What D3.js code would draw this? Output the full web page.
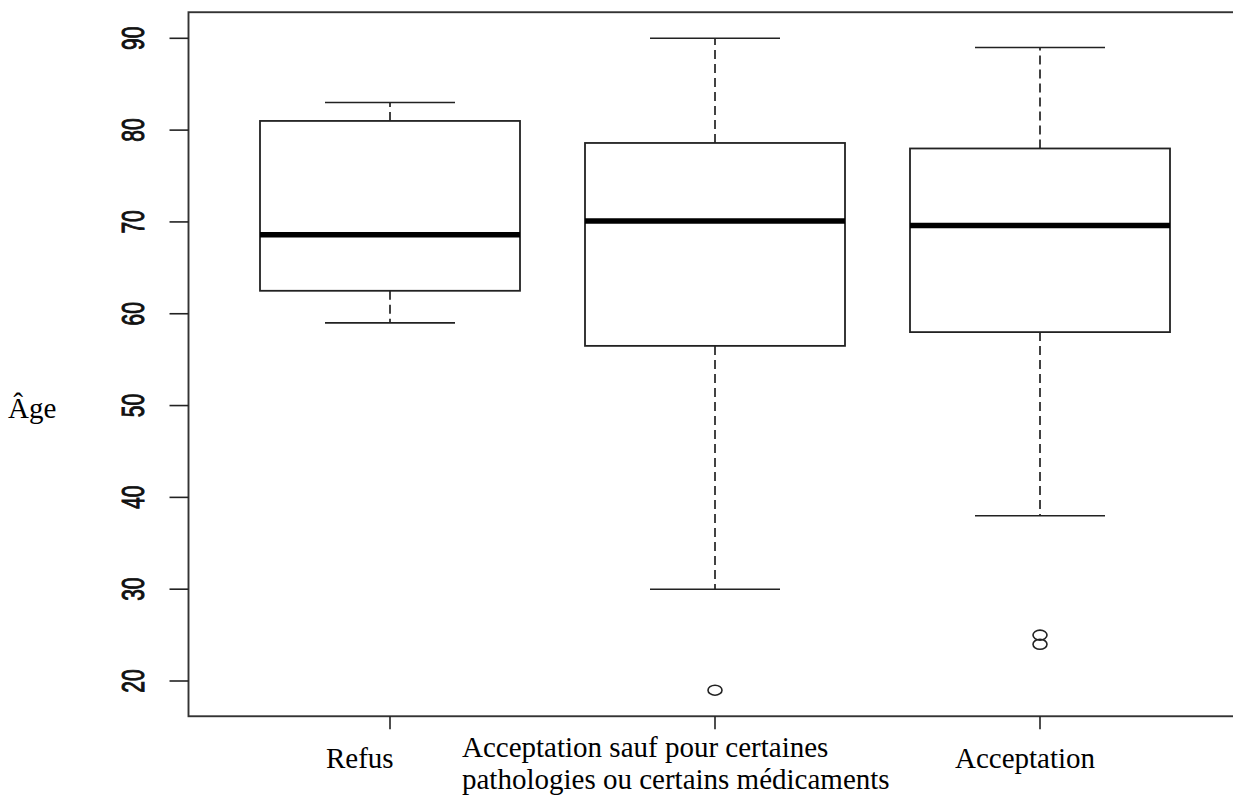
<!DOCTYPE html>
<html>
<head>
<meta charset="utf-8">
<script src="https://cdnjs.cloudflare.com/ajax/libs/d3/7.8.5/d3.min.js"></script>
<style>
  body { margin: 0; background: #fff; }
  svg { display: block; }
</style>
</head>
<body>
<div id="chart"></div>
<script>
// groups, in plotting order
var categories = ["Refus", "Acceptation sauf pour certaines pathologies ou certains médicaments", "Acceptation"];
var labelLines = [["Refus"], ["Acceptation sauf pour certaines", "pathologies ou certains médicaments"], ["Acceptation"]];

// five-number summaries
var lowWhisker = [59, 30, 38];
var q1 = [62.5, 56.5, 58];
var median = [68.6, 70.1, 69.6];
var q3 = [81, 78.6, 78];
var highWhisker = [83, 90, 89];
var outliers = [[], [19], [24, 25]];

var yTicks = [20, 30, 40, 50, 60, 70, 80, 90];

var width = 1233, height = 798;

var boxes = categories.map(function(c, i) {
    return {
        name: c, i: i + 1,
        lo: lowWhisker[i], q1: q1[i], med: median[i], q3: q3[i], hi: highWhisker[i],
        out: outliers[i]
    };
});

// R style scales: 4% padding around the data range
var x = d3.scaleLinear().domain([1, 3]).range([390, 1040]);
var y = d3.scaleLinear().domain([20, 90]).range([681, 38.3]);

var allVals = d3.merge([lowWhisker, highWhisker, d3.merge(outliers)]);
var yMin = d3.min(allVals), yMax = d3.max(allVals);
var pad = (yMax - yMin) * 0.04;
var frameTop = y(yMax + pad), frameBottom = y(yMin - pad);
var frameLeft = x(0.5 - 0.12), frameRight = x(3.5 + 0.12);

var svg = d3.select("#chart").append("svg")
    .attr("width", width)
    .attr("height", height);

// plot frame
svg.append("rect")
    .attr("x", frameLeft)
    .attr("y", frameTop)
    .attr("width", frameRight - frameLeft)
    .attr("height", frameBottom - frameTop)
    .attr("fill", "none")
    .attr("stroke", "#333")
    .attr("stroke-width", 1.9);

// y axis ticks, labels rotated and stretched like the original
var yAxis = svg.append("g");
yAxis.selectAll("line")
    .data(yTicks)
    .enter().append("line")
    .attr("x1", frameLeft - 19)
    .attr("x2", frameLeft)
    .attr("y1", function(d) { return y(d); })
    .attr("y2", function(d) { return y(d); })
    .attr("stroke", "#222")
    .attr("stroke-width", 1.6);

yAxis.selectAll("text")
    .data(yTicks)
    .enter().append("text")
    .attr("transform", function(d) { return "translate(144," + y(d) + ") scale(1.5,1) rotate(-90)"; })
    .attr("text-anchor", "middle")
    .style("font-family", "'Liberation Sans', Arial, sans-serif")
    .style("font-size", "21px")
    .style("fill", "#111")
    .style("stroke", "#111")
    .style("stroke-width", 0.7)
    .text(function(d) { return d; });

// x axis ticks
svg.selectAll(".xtick")
    .data(boxes)
    .enter().append("line")
    .attr("class", "xtick")
    .attr("x1", function(d) { return x(d.i); })
    .attr("x2", function(d) { return x(d.i); })
    .attr("y1", frameBottom)
    .attr("y2", frameBottom + 13)
    .attr("stroke", "#222")
    .attr("stroke-width", 1.6);

// boxes
var g = svg.selectAll(".box")
    .data(boxes)
    .enter().append("g")
    .attr("class", "box");

var halfBox = (x(2) - x(1)) * 0.4, halfCap = (x(2) - x(1)) * 0.2;

// dashed whiskers
g.append("line")
    .attr("x1", function(d) { return x(d.i); })
    .attr("x2", function(d) { return x(d.i); })
    .attr("y1", function(d) { return y(d.q3); })
    .attr("y2", function(d) { return y(d.hi); })
    .attr("stroke", "#222")
    .attr("stroke-width", 1.7)
    .attr("stroke-dasharray", "9,5");
g.append("line")
    .attr("x1", function(d) { return x(d.i); })
    .attr("x2", function(d) { return x(d.i); })
    .attr("y1", function(d) { return y(d.q1); })
    .attr("y2", function(d) { return y(d.lo); })
    .attr("stroke", "#222")
    .attr("stroke-width", 1.7)
    .attr("stroke-dasharray", "9,5");

// whisker caps
["hi", "lo"].forEach(function(k) {
    g.append("line")
        .attr("x1", function(d) { return x(d.i) - halfCap; })
        .attr("x2", function(d) { return x(d.i) + halfCap; })
        .attr("y1", function(d) { return y(d[k]); })
        .attr("y2", function(d) { return y(d[k]); })
        .attr("stroke", "#222")
        .attr("stroke-width", 1.6);
});

g.append("rect")
    .attr("x", function(d) { return x(d.i) - halfBox; })
    .attr("y", function(d) { return y(d.q3); })
    .attr("width", halfBox * 2)
    .attr("height", function(d) { return y(d.q1) - y(d.q3); })
    .attr("fill", "#fff")
    .attr("stroke", "#222")
    .attr("stroke-width", 1.8);

// median
g.append("line")
    .attr("x1", function(d) { return x(d.i) - halfBox; })
    .attr("x2", function(d) { return x(d.i) + halfBox; })
    .attr("y1", function(d) { return y(d.med); })
    .attr("y2", function(d) { return y(d.med); })
    .attr("stroke", "#000")
    .attr("stroke-width", 5.5);

// outliers
g.each(function(d) {
    d3.select(this).selectAll("ellipse")
        .data(d.out)
        .enter().append("ellipse")
        .attr("cx", x(d.i))
        .attr("cy", function(v) { return y(v); })
        .attr("rx", 7)
        .attr("ry", 5)
        .attr("fill", "none")
        .attr("stroke", "#222")
        .attr("stroke-width", 1.6);
});

// category labels, placed by hand as in the source document
var labelPos = [[326, 768], [462, 757], [955, 768]];
boxes.forEach(function(d, i) {
    var t = svg.append("text")
        .attr("x", labelPos[i][0])
        .attr("y", labelPos[i][1])
        .style("font-family", "'Liberation Serif', 'Times New Roman', serif")
        .style("font-size", "29px")
        .style("fill", "#000");
    labelLines[i].forEach(function(line, j) {
        t.append("tspan")
            .attr("x", labelPos[i][0])
            .attr("dy", j === 0 ? 0 : 32)
            .text(line);
    });
});

// y axis title
svg.append("text")
    .attr("x", 8)
    .attr("y", 418)
    .style("font-family", "'Liberation Serif', 'Times New Roman', serif")
    .style("font-size", "29px")
    .style("fill", "#000")
    .text("Âge");
</script>
</body>
</html>
